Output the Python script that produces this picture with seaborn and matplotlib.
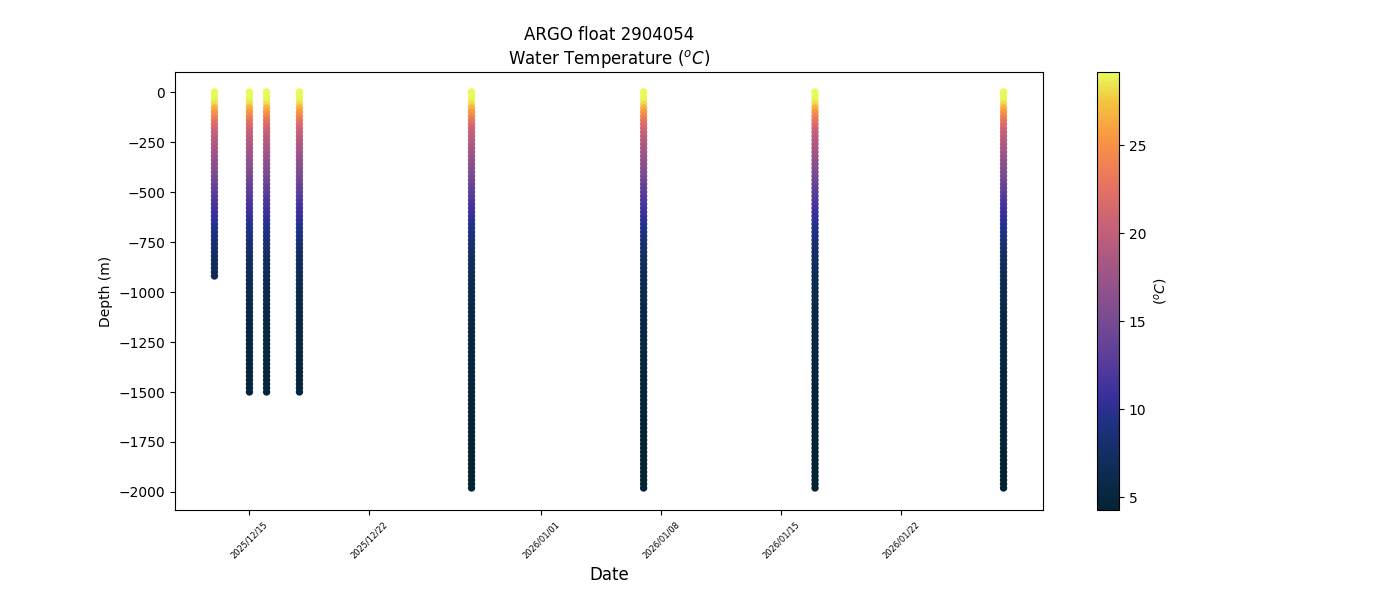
import numpy as np
import pandas as pd
import matplotlib
matplotlib.use("Agg")
import matplotlib.pyplot as plt
import matplotlib.dates as mdates
from matplotlib.colors import LinearSegmentedColormap, Normalize
import seaborn as sns

# ---- data ----
profile_dates = ["2025-12-12 23:00", "2025-12-15 00:00", "2025-12-16 00:00", "2025-12-17 22:00",
                 "2025-12-27 23:00", "2026-01-07 00:00", "2026-01-17 00:00", "2026-01-28 00:00"]
profile_max_depth = [920, 1500, 1500, 1500, 1980, 1980, 1980, 1980]

# measurement depths (m), every 20 m from the surface to 2000 m
depth_levels = list(range(0, 2001, 20))
temp_levels = [29.15, 29.1, 28.9, 28.2, 26.8, 25.5, 24.3, 23.1, 22.1, 21.2,
               20.5, 19.9, 19.4, 18.9, 18.4, 18.0, 17.5, 17.0, 16.5, 16.1,
               15.6, 15.1, 14.6, 14.1, 13.6, 13.2, 12.7, 12.2, 11.8, 11.4,
               11.0, 10.6, 10.3, 9.9, 9.6, 9.3, 9.0, 8.6, 8.3, 8.0,
               7.8, 7.55, 7.3, 7.1, 6.95, 6.8, 6.65, 6.5, 6.4, 6.25,
               6.1, 6.05, 5.95, 5.9, 5.8, 5.7, 5.65, 5.6, 5.55, 5.5,
               5.4, 5.36, 5.32, 5.28, 5.24, 5.2, 5.16, 5.12, 5.08, 5.04,
               5.0, 4.97, 4.94, 4.91, 4.88, 4.85, 4.82, 4.79, 4.76, 4.73,
               4.71, 4.68, 4.65, 4.62, 4.6, 4.58, 4.55, 4.52, 4.5, 4.48,
               4.46, 4.44, 4.42, 4.4, 4.38, 4.36, 4.34, 4.32, 4.3, 4.28,
               4.26]

# ---- build long table ----
rows = []
for d, maxd in zip(profile_dates, profile_max_depth):
    for z, t in zip(depth_levels, temp_levels):
        if z <= maxd:
            rows.append((pd.Timestamp(d), -z, t))
df = pd.DataFrame(rows, columns=["date", "depth", "temp"])

thermal = LinearSegmentedColormap.from_list("thermal_like", [
    (0.00, "#042333"), (0.10, "#0f2d58"), (0.20, "#1f3183"), (0.26, "#3a2f9d"),
    (0.35, "#5c3e9a"), (0.45, "#7e4d90"), (0.55, "#a25686"), (0.65, "#c86177"),
    (0.75, "#e97460"), (0.85, "#fa9642"), (0.93, "#f3c23f"), (1.00, "#e8fa5b")])
vmin, vmax = df["temp"].min(), df["temp"].max()
norm = Normalize(vmin=vmin, vmax=vmax)

fig, ax = plt.subplots(figsize=(14, 6), dpi=100)
fig.subplots_adjust(bottom=0.15)
sns.scatterplot(data=df, x="date", y="depth", hue="temp", palette=thermal, hue_norm=norm,
                s=28, linewidth=0, legend=False, ax=ax)
ax.set_ylim(-2090, 100)

sm = plt.cm.ScalarMappable(cmap=thermal, norm=norm)
sm.set_array([])
cb = fig.colorbar(sm, ax=ax)
cb.set_label("($^oC$)")

ax.set_title("ARGO float 2904054\nWater Temperature ($^oC$)", fontsize=12)
ax.set_xlabel("Date", fontsize=12)
ax.set_ylabel("Depth (m)")
ax.xaxis.set_major_formatter(mdates.DateFormatter("%Y/%m/%d"))
plt.setp(ax.get_xticklabels(), rotation=45, fontsize=6)

fig.savefig("out.png", dpi=100)
